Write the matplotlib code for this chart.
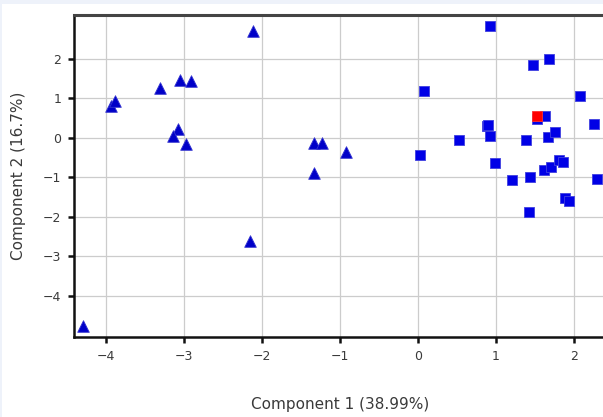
import matplotlib
matplotlib.use("Agg")
import matplotlib.pyplot as plt
from matplotlib.patches import Rectangle

# group A (triangles)
tri_x = [-2.12, -3.31, -3.05, -2.91, -3.94, -3.88, -3.08, -3.14, -2.97,
         -1.33, -1.23, -0.92, -1.33, -2.15, -4.29]
tri_y = [2.71, 1.27, 1.47, 1.44, 0.81, 0.94, 0.23, 0.05, -0.15,
         -0.13, -0.13, -0.35, -0.89, -2.62, -4.76]

# group B (squares)
sq_x = [0.92, 1.47, 1.68, 0.08, 2.08, 1.52, 1.63, 0.89, 0.90, 0.92,
        0.52, 1.39, 1.67, 1.75, 2.26, 0.03, 0.99, 1.20, 1.43, 1.62,
        1.70, 1.81, 1.86, 2.29, 1.88, 1.94, 1.42]
sq_y = [2.84, 1.85, 2.00, 1.19, 1.06, 0.47, 0.56, 0.30, 0.33, 0.06,
        -0.05, -0.05, 0.01, 0.16, 0.35, -0.44, -0.63, -1.07, -1.00, -0.82,
        -0.73, -0.55, -0.61, -1.05, -1.51, -1.61, -1.87]

# highlighted point
hl_x = [1.53]
hl_y = [0.56]

xticks = [-4, -3, -2, -1, 0, 1, 2]
yticks = [-4, -3, -2, -1, 0, 1, 2]

fig = plt.figure(figsize=(6.03, 4.17), dpi=100, facecolor="white")
# thin light border strips at top and left
fig.patches.append(Rectangle((0, (417 - 4) / 417), 1, 4 / 417,
                             transform=fig.transFigure, facecolor="#eef2fa",
                             edgecolor="none", zorder=0))
fig.patches.append(Rectangle((0, 0), 2 / 603, 1,
                             transform=fig.transFigure, facecolor="#eef2fa",
                             edgecolor="none", zorder=0))

ax = fig.add_axes([74 / 603, 80 / 417, 532 / 603, 322 / 417])
ax.set_zorder(2)
ax.set_facecolor("white")

ax.scatter(tri_x, tri_y, marker="^", s=70, color="#0000c8",
           edgecolors="#3535d0", linewidths=0.6, zorder=3)
ax.scatter(sq_x, sq_y, marker="s", s=50, color="#0000e6",
           edgecolors="#4040e0", linewidths=0.6, zorder=3)
ax.scatter(hl_x, hl_y, marker="s", s=50, color="#ff0000",
           edgecolors="#ff3030", linewidths=0.6, zorder=4)

ax.set_xlim(-4.41, 2.41)
ax.set_ylim(-5.04, 3.11)
ax.set_xticks(xticks)
ax.set_yticks(yticks)
ax.set_xticklabels([str(t).replace("-", "\u2212") for t in xticks])
ax.set_yticklabels([str(t).replace("-", "\u2212") for t in yticks])
ax.grid(True, color="#cccccc", linewidth=0.9)
ax.set_axisbelow(True)

for side in ["left", "bottom"]:
    ax.spines[side].set_linewidth(1.8)
    ax.spines[side].set_color("#111111")
ax.spines["top"].set_linewidth(2.2)
ax.spines["top"].set_color("#444444")
ax.spines["right"].set_visible(False)

ax.tick_params(axis="both", length=4, width=1.8, color="#111111",
               labelsize=9, labelcolor="#3a3a3a", pad=5)

ax.set_xlabel("Component 1 (38.99%)", fontsize=11, color="#3a3a3a", labelpad=25)
ax.set_ylabel("Component 2 (16.7%)", fontsize=11, color="#3a3a3a", labelpad=12)

fig.savefig("out.png", dpi=100, facecolor=fig.get_facecolor())
